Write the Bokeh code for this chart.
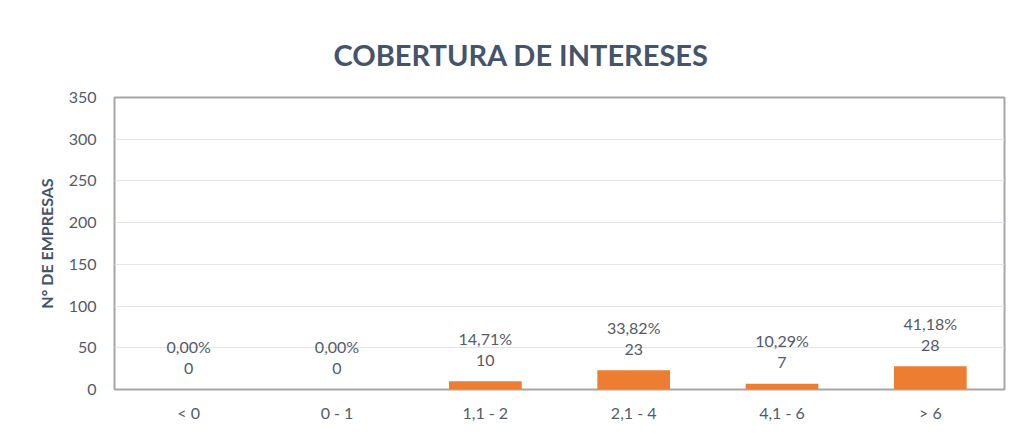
from bokeh.plotting import figure
from bokeh.models import ColumnDataSource, Title, Range1d, FixedTicker
from bokeh.core.properties import value
from bokeh.embed import file_html
from bokeh.resources import INLINE

categories = ["< 0", "0 - 1", "1,1 - 2", "2,1 - 4", "4,1 - 6", "> 6"]
counts = [0, 0, 10, 23, 7, 28]
percents = ["0,00%", "0,00%", "14,71%", "33,82%", "10,29%", "41,18%"]
y_ticks = [0, 50, 100, 150, 200, 250, 300, 350]

source = ColumnDataSource(dict(
    cat=categories,
    count=counts,
    count_txt=[str(c) for c in counts],
    pct=percents,
))

FONT = "Lato"
TXT = "#535B68"

p = figure(x_range=categories, y_range=Range1d(0, 350),
           width=1011, height=430, output_backend="svg", toolbar_location=None,
           min_border_left=114, min_border_right=7, min_border_top=97, min_border_bottom=41)

p.add_layout(Title(text="COBERTURA DE INTERESES", align="left", offset=219,
                   text_font=FONT, text_font_size="29px", text_font_style="bold",
                   text_color="#44546A", standoff=51), "above")

p.vbar(x="cat", top="count", width=0.49, source=source,
       fill_color="#ED7D31", line_color=None)

p.text(x="cat", y="count", text="count_txt", source=source, y_offset=-21,
       text_align="center", text_baseline="middle",
       text_font=value(FONT), text_font_size="16px", text_color=TXT)
p.text(x="cat", y="count", text="pct", source=source, y_offset=-43,
       text_align="center", text_baseline="middle",
       text_font=value(FONT), text_font_size="16px", text_color=TXT)

p.outline_line_color = "#A6A6A6"
p.outline_line_width = 2
p.background_fill_color = "white"
p.border_fill_color = "white"

p.xgrid.grid_line_color = None
p.ygrid.grid_line_color = "#E1E4EA"
p.ygrid.grid_line_width = 1

p.yaxis.ticker = FixedTicker(ticks=y_ticks)
p.yaxis.axis_line_color = None
p.yaxis.major_tick_line_color = None
p.yaxis.major_tick_out = 0
p.yaxis.major_tick_in = 0
p.yaxis.minor_tick_line_color = None
p.yaxis.major_label_standoff = 18
p.yaxis.major_label_text_font = FONT
p.yaxis.major_label_text_font_size = "16px"
p.yaxis.major_label_text_color = TXT
p.yaxis.axis_label = "N° DE EMPRESAS"
p.yaxis.axis_label_text_font = FONT
p.yaxis.axis_label_text_font_size = "16px"
p.yaxis.axis_label_text_font_style = "bold"
p.yaxis.axis_label_text_color = "#44546A"
p.yaxis.axis_label_standoff = 10

p.xaxis.axis_line_color = None
p.xaxis.major_tick_line_color = None
p.xaxis.major_tick_out = 0
p.xaxis.major_tick_in = 0
p.xaxis.minor_tick_line_color = None
p.xaxis.major_label_standoff = 13
p.xaxis.major_label_text_font = FONT
p.xaxis.major_label_text_font_size = "16px"
p.xaxis.major_label_text_color = TXT

p.x_range.range_padding = 0

open("out.html", "w").write(file_html(p, INLINE))
